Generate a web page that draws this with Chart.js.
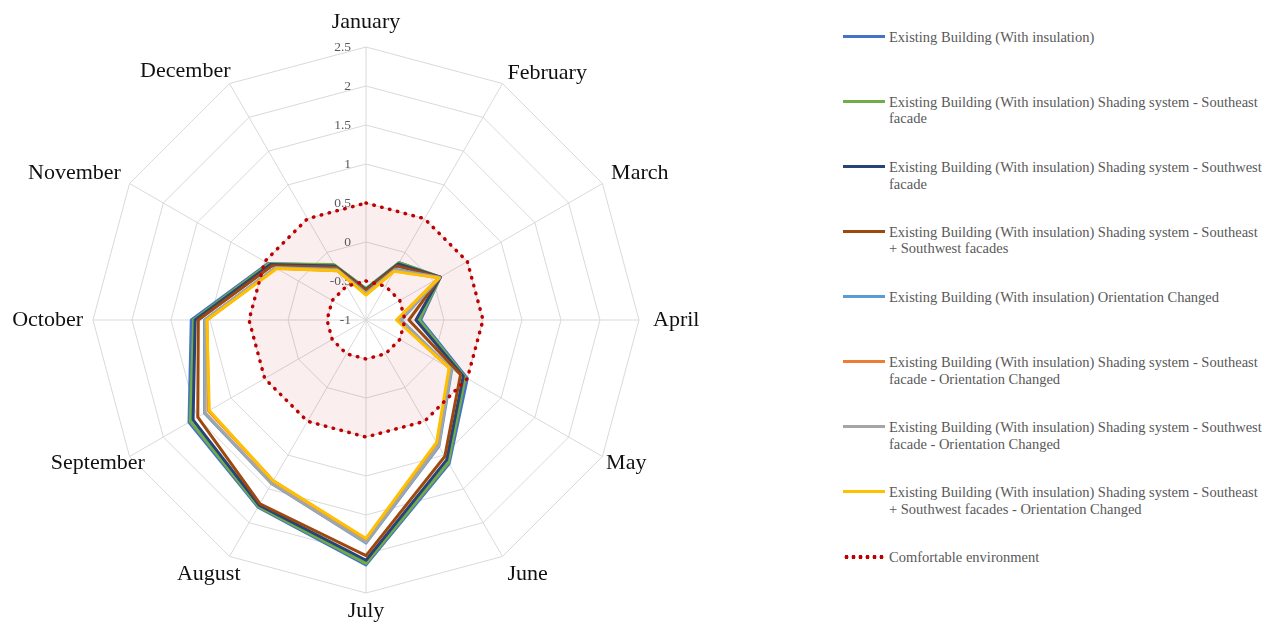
<!DOCTYPE html>
<html>
<head>
<meta charset="utf-8">
<script src="https://cdn.jsdelivr.net/npm/chart.js@4.4.1/dist/chart.umd.min.js"></script>
<style>
    html, body { margin: 0; padding: 0; background: #fff; }
    #wrap { position: relative; width: 1272px; height: 626px; }
    #radar { position: absolute; left: 0; top: 0; }
    #legend { position: absolute; left: 843px; top: 0; font-family: 'Liberation Serif', 'Times New Roman', serif; font-size: 14.5px; color: #595959; }
    .lg-item { position: absolute; left: 0; width: 425px; }
    .lg-line { position: absolute; left: 0; top: -1.5px; width: 42px; height: 3px; }
    .lg-dots { position: absolute; left: 0; top: -2px; width: 42px; height: 4px; }
    .lg-text { position: absolute; left: 46px; top: -7.5px; white-space: pre; line-height: 16.7px; }
</style>
</head>
<body>
<div id="wrap">
    <canvas id="radar" width="732" height="626"></canvas>
    <div id="legend"></div>
</div>
<script>
/* ---- data ---- */
const months = ['January', 'February', 'March', 'April', 'May', 'June',
                'July', 'August', 'September', 'October', 'November', 'December'];

const tickLabels = ['-1', '-0.5', '0', '0.5', '1', '1.5', '2', '2.5'];

const existing       = [-0.60, -0.15, 0.10, -0.30, 0.50, 1.13, 2.14, 1.77, 1.62, 1.24, 0.45, -0.19];
const shadeSE        = [-0.60, -0.15, 0.10, -0.32, 0.47, 1.11, 2.12, 1.76, 1.60, 1.21, 0.44, -0.18];
const shadeSW        = [-0.61, -0.17, 0.10, -0.36, 0.44, 1.07, 2.08, 1.74, 1.56, 1.19, 0.42, -0.20];
const shadeSESW      = [-0.62, -0.20, 0.10, -0.45, 0.40, 1.02, 2.02, 1.72, 1.49, 1.15, 0.39, -0.22];
const orient         = [-0.66, -0.25, 0.09, -0.55, 0.27, 0.87, 1.86, 1.42, 1.39, 1.07, 0.34, -0.25];
const shadeSEOrient  = [-0.67, -0.27, 0.08, -0.60, 0.24, 0.82, 1.81, 1.38, 1.33, 1.04, 0.33, -0.27];
const shadeSWOrient  = [-0.66, -0.26, 0.09, -0.56, 0.26, 0.86, 1.85, 1.42, 1.38, 1.06, 0.34, -0.26];
const shadeAllOrient = [-0.68, -0.28, 0.08, -0.61, 0.23, 0.81, 1.80, 1.38, 1.32, 1.04, 0.32, -0.27];

const comfortUpper = [0.5, 0.5, 0.5, 0.5, 0.5, 0.5, 0.5, 0.5, 0.5, 0.5, 0.5, 0.5];
const comfortLower = [-0.5, -0.5, -0.5, -0.5, -0.5, -0.5, -0.5, -0.5, -0.5, -0.5, -0.5, -0.5];

const seriesNames = [
    'Existing Building (With insulation)',
    'Existing Building (With insulation) Shading system - Southeast\nfacade',
    'Existing Building (With insulation) Shading system - Southwest\nfacade',
    'Existing Building (With insulation) Shading system - Southeast\n+ Southwest facades',
    'Existing Building (With insulation) Orientation Changed',
    'Existing Building (With insulation) Shading system - Southeast\nfacade - Orientation Changed',
    'Existing Building (With insulation) Shading system - Southwest\nfacade - Orientation Changed',
    'Existing Building (With insulation) Shading system - Southeast\n+ Southwest facades - Orientation Changed'
];
const comfortName = 'Comfortable environment';

const seriesValues = [existing, shadeSE, shadeSW, shadeSESW, orient, shadeSEOrient, shadeSWOrient, shadeAllOrient];
const seriesColors = ['#4472C4', '#70AD47', '#264478', '#9E480E', '#5B9BD5', '#ED7D31', '#A5A5A5', '#FFC000'];
const comfortColor = '#C00000';

const SERIF = "'Liberation Serif', 'Times New Roman', serif";

/* month label placement (Excel puts them a little differently than Chart.js) */
const labelGap = 10;
const labelNudge = [[0, -4], [0, 8], [0, 0], [4, 0], [-5, -4], [0, 0],
                    [0, -3], [16, 0], [24, -4], [0, 0], [0, 0], [6, 6]];

/* ---- datasets ---- */
const datasets = seriesValues.map((vals, i) => ({
    label: seriesNames[i],
    data: vals,
    borderColor: seriesColors[i],
    backgroundColor: 'transparent',
    borderWidth: 3,
    borderJoinStyle: 'round',
    pointRadius: 0,
    fill: false,
    order: 20 - i
}));

const dotted = {
    borderColor: comfortColor,
    borderWidth: 3.5,
    borderDash: [0.5, 7.6],
    borderCapStyle: 'round',
    pointRadius: 0,
    order: 0
};
datasets.push(Object.assign({}, dotted, {
    label: comfortName,
    data: comfortUpper,
    fill: '+1',
    backgroundColor: 'rgba(192,0,0,0.065)'
}));
datasets.push(Object.assign({}, dotted, {
    label: comfortName + ' (inner)',
    data: comfortLower,
    fill: false,
    backgroundColor: 'transparent'
}));

/* value ticks left of the January spoke, month names around the rim */
const radarText = {
    id: 'radarText',
    beforeDatasetsDraw(chart) {
        const r = chart.scales.r;
        const ctx = chart.ctx;
        ctx.save();
        ctx.font = '13.5px ' + SERIF;
        ctx.fillStyle = '#595959';
        ctx.textAlign = 'right';
        ctx.textBaseline = 'middle';
        r.ticks.forEach((t, i) => {
            const d = r.getDistanceFromCenterForValue(t.value);
            ctx.fillText(tickLabels[i] || t.label, r.xCenter - 15, r.yCenter - d);
        });
        ctx.restore();
    },
    afterDraw(chart) {
        const r = chart.scales.r;
        const ctx = chart.ctx;
        ctx.save();
        ctx.font = '22px ' + SERIF;
        ctx.fillStyle = '#111';
        ctx.textBaseline = 'middle';
        months.forEach((m, i) => {
            const deg = i * 360 / months.length;
            const rad = deg * Math.PI / 180;
            const p = r.getPointPosition(i, r.drawingArea + labelGap);
            ctx.textAlign = (deg === 0 || deg === 180) ? 'center' : (deg < 180 ? 'left' : 'right');
            const y = p.y - Math.cos(rad) * 11;
            ctx.fillText(m, p.x + labelNudge[i][0], y + labelNudge[i][1]);
        });
        ctx.restore();
    }
};

new Chart(document.getElementById('radar').getContext('2d'), {
    type: 'radar',
    data: { labels: months, datasets: datasets },
    options: {
        responsive: false,
        animation: false,
        layout: { padding: { top: 47, bottom: 33, left: 93, right: 93 } },
        elements: { line: { tension: 0 } },
        plugins: {
            legend: { display: false },
            tooltip: { enabled: false },
            filler: { drawTime: 'beforeDatasetsDraw' }
        },
        scales: {
            r: {
                min: -1,
                max: 2.5,
                ticks: { display: false, stepSize: 0.5 },
                grid: { color: '#D9D9D9', lineWidth: 1 },
                angleLines: { color: '#D9D9D9', lineWidth: 1 },
                pointLabels: { display: false }
            }
        }
    },
    plugins: [radarText]
});

/* ---- legend ---- */
const legendEl = document.getElementById('legend');
const legendTops = [36, 101, 166.5, 231, 296.5, 361.5, 426.5, 491.5, 556.5];
seriesNames.concat([comfortName]).forEach((name, i) => {
    const item = document.createElement('div');
    item.className = 'lg-item';
    item.style.top = legendTops[i] + 'px';
    const mark = document.createElement('div');
    if (i < seriesNames.length) {
        mark.className = 'lg-line';
        mark.style.background = seriesColors[i];
    } else {
        mark.className = 'lg-dots';
        mark.style.background = 'radial-gradient(circle, ' + comfortColor + ' 1.8px, transparent 2.2px) 0 0 / 7px 4px repeat-x';
    }
    const txt = document.createElement('div');
    txt.className = 'lg-text';
    txt.textContent = name;
    item.appendChild(mark);
    item.appendChild(txt);
    legendEl.appendChild(item);
});
</script>
</body>
</html>
